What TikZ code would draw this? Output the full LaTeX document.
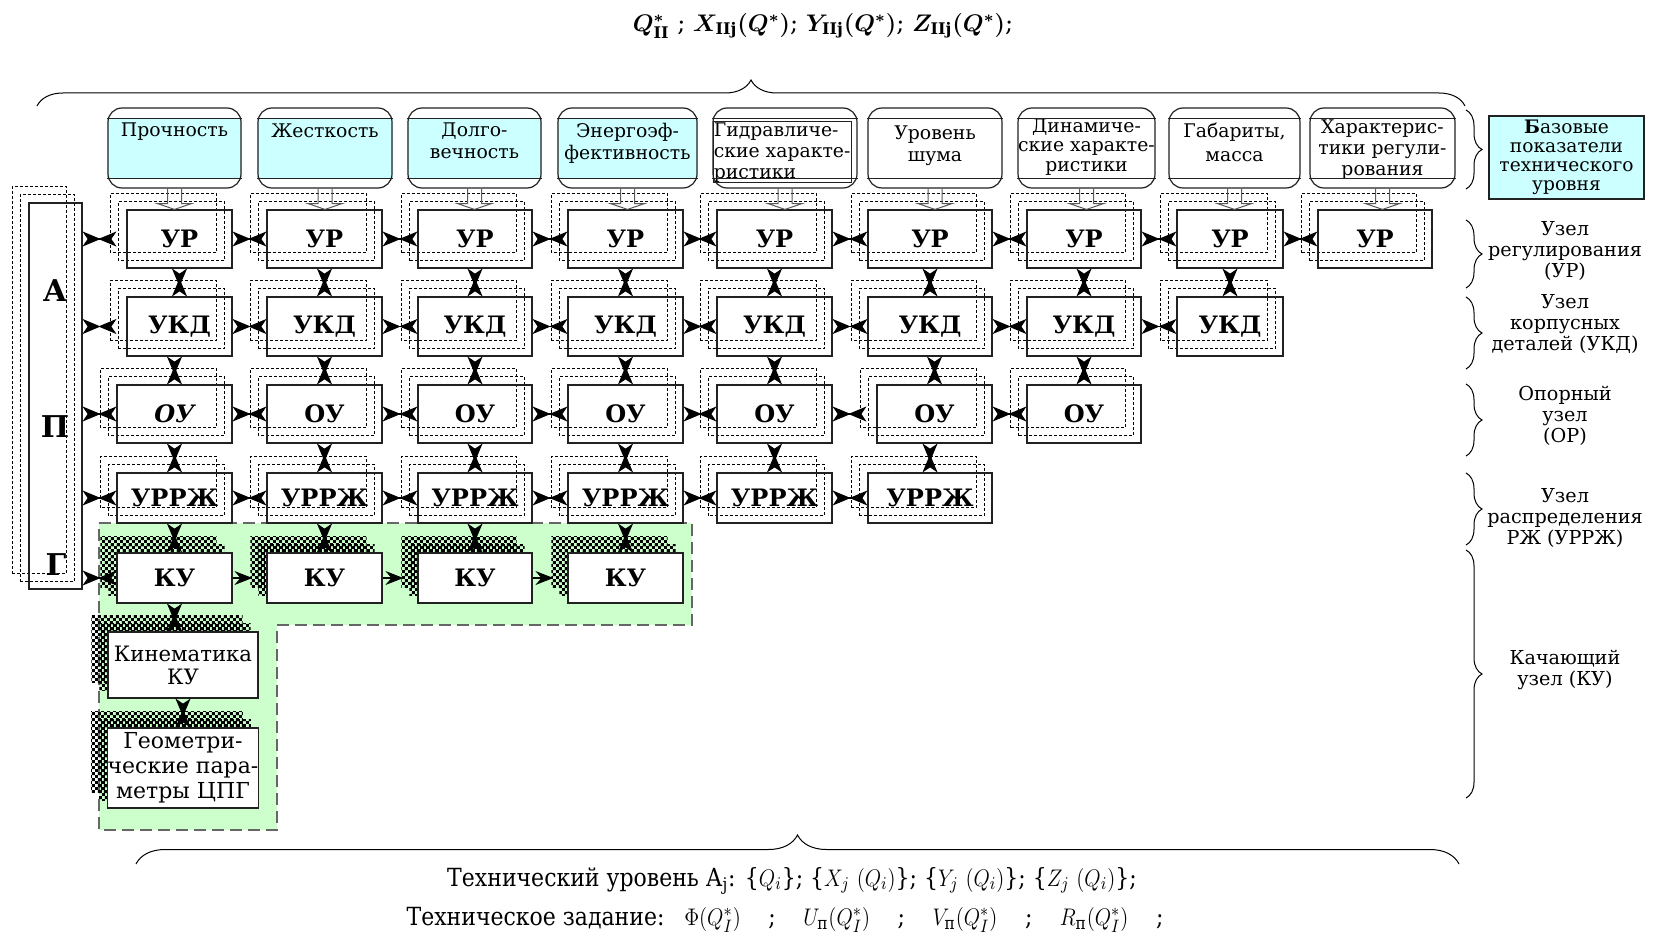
\documentclass[tikz,border=0pt]{standalone}
\usepackage{amsmath}
\usepackage{graphicx}
\usepackage{fontspec}
\setmainfont{DejaVu Serif}
\usetikzlibrary{arrows.meta,calc,patterns,decorations.pathreplacing}

\newlength{\du}
\setlength{\du}{0.5pt}

\definecolor{dialinecolor}{rgb}{0.13,0.13,0.13}
\definecolor{bandcyan}{rgb}{0.80,1.00,1.00}
\definecolor{zonegreen}{rgb}{0.80,1.00,0.80}

\pgfdeclarelayer{back}
\pgfdeclarelayer{frames}
\pgfsetlayers{back,frames,main}

% fine checkerboard for the swing unit shadows
\pgfdeclarepatternformonly{finechecks}{\pgfpointorigin}{\pgfqpoint{3.2pt}{3.2pt}}{\pgfqpoint{3.2pt}{3.2pt}}{%
  \pgfpathrectangle{\pgfpointorigin}{\pgfqpoint{1.6pt}{1.6pt}}%
  \pgfpathrectangle{\pgfqpoint{1.6pt}{1.6pt}}{\pgfqpoint{1.6pt}{1.6pt}}%
  \pgfusepath{fill}}

\tikzset{
  topbox/.style={draw=dialinecolor, line width=0.6pt, rounded corners=7pt, inner sep=0pt, minimum height=80\du},
  toptext/.style={inner sep=0pt, align=center, font=\fontsize{9.4}{11}\selectfont},
  unit/.style={draw=dialinecolor, line width=0.6pt, inner sep=0pt, font=\fontsize{12}{14}\selectfont\bfseries},
  swing/.style={unit, fill=white},
  partbox/.style={draw=dialinecolor, line width=0.6pt, fill=white, inner sep=0pt, minimum width=150\du, align=center},
  basebox/.style={draw=dialinecolor, line width=0.6pt, fill=bandcyan, inner sep=0pt, minimum width=155\du, minimum height=83\du, align=center, font=\fontsize{9.3}{9.5}\selectfont},
  letter/.style={inner sep=0pt, font=\fontsize{15}{15}\selectfont\bfseries},
  ghost/.style={draw=black, line width=0.4pt, dash pattern=on 1.5pt off 1pt},
  checks/.style={pattern=finechecks, pattern color=black},
  zone/.style={fill=zonegreen, draw=black!60, line width=0.6pt, dash pattern=on 6pt off 3pt},
  bistar/.style={line width=0.6pt, arrows={Stealth[reversed,length=9pt,width=7.5pt,inset=2.5pt]-Stealth[reversed,length=9pt,width=7.5pt,inset=2.5pt]}},
  onestar/.style={line width=0.6pt, arrows={-Stealth[length=9pt,width=7pt,inset=3pt]}},
  hollow/.style={draw=black!65, line width=0.5pt},
  sidebrace/.style={decorate, decoration={brace, amplitude=8pt}, line width=0.5pt},
  sidelabel/.style={inner sep=0pt, align=center, font=\fontsize{9.6}{10.5}\selectfont},
}

\begin{document}
\begin{tikzpicture}
\pgftransformxscale{1.000000}
\pgftransformyscale{-1.000000}
\useasboundingbox (0\du,0\du) rectangle (1663\du,936\du);

% goal line
\node[font=\fontsize{12}{14}\selectfont] (goal) at (823\du,26\du) {$\boldsymbol{Q^{*}_{\mathrm{II}}}$ ; $\boldsymbol{X_{\mathrm{IIj}}(Q^{*})}$; $\boldsymbol{Y_{\mathrm{IIj}}(Q^{*})}$; $\boldsymbol{Z_{\mathrm{IIj}}(Q^{*})}$;};

% basic indicators
\foreach \col/\x/\w in {1/174.5/133,2/325/134,3/474.5/133,4/627.5/139,5/785/144,6/935/134,7/1086.5/137,8/1234.5/131,9/1382.5/145}
  \node[topbox, minimum width=\w\du] (t\col) at (\x\du,148\du) {};
\node[toptext, anchor=north] (t1txt) at ($(t1.north)+(0\du,15\du)$) {Прочность};
\node[toptext, anchor=north] (t2txt) at ($(t2.north)+(0\du,16\du)$) {Жесткость};
\node[toptext, anchor=north] (t3txt) at ($(t3.north)+(0\du,15\du)$) {Долго-\\вечность};
\node[toptext, anchor=north] (t4txt) at ($(t4.north)+(0\du,15\du)$) {Энергоэф-\\фективность};
\node[toptext, anchor=north west, align=left, font=\fontsize{9.4}{10.5}\selectfont] (t5txt) at ($(t5.north west)+(1\du,15\du)$) {Гидравличе-\\ские характе-\\ристики};
\node[toptext, anchor=north] (t6txt) at ($(t6.north)+(0\du,18\du)$) {Уровень\\шума};
\node[toptext, anchor=north, font=\fontsize{9.4}{9.7}\selectfont] (t7txt) at ($(t7.north)+(0\du,11\du)$) {Динамиче-\\ские характе-\\ристики};
\node[toptext, anchor=north, font=\fontsize{9.4}{12}\selectfont] (t8txt) at ($(t8.north)+(0\du,15\du)$) {Габариты,\\масса};
\node[toptext, anchor=north, font=\fontsize{9.4}{10.5}\selectfont] (t9txt) at ($(t9.north)+(0\du,12\du)$) {Характерис-\\тики регули-\\рования};
\node[basebox] (base) at (1566.5\du,157.5\du) {\textbf{Б}азовые\\показатели\\технического\\уровня};

% unit grid
\foreach \col/\x/\w in {1/179.5/105,2/324.5/115,3/475/114,4/625.5/115,5/774.5/115,6/930/124,7/1084/114,8/1230/106,9/1375/114}
  \node[unit, minimum width=\w\du, minimum height=58\du] (r1c\col) at (\x\du,239\du) {УР};
\foreach \col/\x/\w in {1/179.5/105,2/324.5/115,3/475/114,4/625.5/115,5/774.5/115,6/930/124,7/1084/114,8/1230/106}
  \node[unit, minimum width=\w\du, minimum height=59\du] (r2c\col) at (\x\du,326.5\du) {УКД};
\node[unit, minimum width=115\du, minimum height=58\du] (r3c1) at (174.5\du,414\du) {\itshape ОУ};
\foreach \col/\x/\w in {2/324.5/115,3/475/114,4/625.5/115,5/774.5/115,6/934.5/115,7/1084/114}
  \node[unit, minimum width=\w\du, minimum height=58\du] (r3c\col) at (\x\du,414\du) {ОУ};
\foreach \col/\x/\w in {1/174.5/115,2/324.5/115,3/475/114,4/625.5/115,5/774.5/115,6/930/124}
  \node[unit, minimum width=\w\du, minimum height=50\du] (r4c\col) at (\x\du,498\du) {УРРЖ};
\foreach \col/\x/\w in {1/174.5/115,2/324.5/115,3/475/114,4/625.5/115}
  \node[swing, minimum width=\w\du, minimum height=50\du] (r5c\col) at (\x\du,578\du) {КУ};
\node[partbox, minimum height=66\du, font=\fontsize{10.6}{11.5}\selectfont] (kin) at (183\du,665\du) {Кинематика\\КУ};
\node[partbox, minimum height=80\du, font=\fontsize{11}{12.5}\selectfont] (geo) at (183\du,768\du) {Геометри-\\ческие пара-\\метры ЦПГ};

% APG column
\node[draw=dialinecolor, line width=0.6pt, minimum width=53\du, minimum height=386\du] (apg) at (55.5\du,396\du) {};
\node[letter] (letA) at (55\du,291\du) {А};
\node[letter] (letP) at (55\du,427\du) {П};
\node[letter] (letG) at (56\du,565\du) {Г};

% backgrounds, bands and shadows
\begin{pgfonlayer}{back}
\filldraw[zone] (99\du,523\du) -- (692\du,523\du) -- (692\du,625\du) -- (277\du,625\du) -- (277\du,830\du) -- (99\du,830\du) -- cycle;
\foreach \col in {1,2,3,4}
  \fill[bandcyan] ($(t\col.north west)+(0\du,11\du)$) rectangle ($(t\col.south east)+(0\du,-10\du)$);
\end{pgfonlayer}
\foreach \col in {1,...,9} {
  \draw[dialinecolor, line width=0.6pt] ($(t\col.north west)+(0\du,11\du)$) -- ($(t\col.north east)+(0\du,11\du)$);
  \draw[dialinecolor, line width=0.6pt] ($(t\col.south west)+(0\du,-10\du)$) -- ($(t\col.south east)+(0\du,-10\du)$);
}
\draw[dialinecolor, line width=0.6pt] ($(t5.north west)+(1\du,14\du)$) rectangle ($(t5.south east)+(-6\du,-6\du)$);
\begin{pgfonlayer}{frames}
\foreach \nd in {apg,r1c1,r1c2,r1c3,r1c4,r1c5,r1c6,r1c7,r1c8,r1c9,r2c1,r2c2,r2c3,r2c4,r2c5,r2c6,r2c7,r2c8,r3c1,r3c2,r3c3,r3c4,r3c5,r3c6,r3c7,r4c1,r4c2,r4c3,r4c4,r4c5,r4c6} {
  \draw[ghost] ($(\nd.south west)+(-16\du,-16\du)$) rectangle ($(\nd.north east)+(-16\du,-16\du)$);
  \draw[ghost] ($(\nd.south west)+(-8\du,-8\du)$) rectangle ($(\nd.north east)+(-8\du,-8\du)$);
}
\foreach \nd in {r5c1,r5c2,r5c3,r5c4,kin,geo} {
  \fill[checks] ($(\nd.south west)+(-16\du,-16\du)$) rectangle ($(\nd.north east)+(-16\du,-16\du)$);
  \fill[checks] ($(\nd.south west)+(-8\du,-8\du)$) rectangle ($(\nd.north east)+(-8\du,-8\du)$);
}
\end{pgfonlayer}

% hollow arrows from indicators
\foreach \col in {1,...,9}
  \draw[hollow] ($(t\col.south)+(-7\du,0\du)$) -- ++(0\du,15\du) -- ++(-10\du,0\du) -- (t\col.south |- r1c\col.north) -- ($(t\col.south)+(17\du,15\du)$) -- ++(-10\du,0\du) -- ++(0\du,-15\du);

% links
\draw[bistar, shorten >=5pt] (apg.east |- r1c1) -- (r1c1.west);
\draw[bistar, shorten >=5pt] (apg.east |- r2c1) -- (r2c1.west);
\draw[bistar] (apg.east |- r3c1) -- (r3c1.west);
\draw[bistar] (apg.east |- r4c1) -- (r4c1.west);
\draw[bistar] (apg.east |- r5c1) -- (r5c1.west);
\foreach \ca/\cb in {1/2,2/3,3/4,4/5,5/6,6/7,7/8,8/9}
  \draw[bistar] (r1c\ca.east) -- (r1c\cb.west);
\foreach \ca/\cb in {1/2,2/3,3/4,4/5,5/6,6/7,7/8}
  \draw[bistar] (r2c\ca.east) -- (r2c\cb.west);
\foreach \ca/\cb in {1/2,2/3,3/4,4/5,6/7}
  \draw[bistar] (r3c\ca.east) -- (r3c\cb.west);
\draw[bistar, shorten >=5pt] (r3c5.east) -- (r3c6.west);
\foreach \ca/\cb in {1/2,2/3,3/4,4/5,5/6}
  \draw[bistar] (r4c\ca.east) -- (r4c\cb.west);
\foreach \ca/\cb in {1/2,2/3,3/4}
  \draw[onestar, shorten >=7pt] (r5c\ca.east) -- (r5c\cb.west);
\foreach \col in {1,...,8}
  \draw[bistar] (r1c\col.south -| r2c\col.north) -- (r2c\col.north);
\foreach \col in {1,...,7}
  \draw[bistar] (r2c\col.south -| r3c\col.north) -- (r3c\col.north);
\foreach \col in {1,...,6}
  \draw[bistar] (r3c\col.south -| r4c\col.north) -- (r4c\col.north);
\foreach \col in {1,...,4}
  \draw[bistar] (r4c\col.south -| r5c\col.north) -- (r5c\col.north);
\draw[bistar] (r5c1.south) -- (r5c1.south |- kin.north);
\draw[bistar] (kin.south) -- (geo.north);

% braces
\draw[decorate, decoration={brace, amplitude=13pt}, line width=0.5pt] (37\du,106\du) -- (1465\du,106\du);
\draw[decorate, decoration={brace, amplitude=14.5pt}, line width=0.5pt] (136\du,864\du) -- (1459\du,864\du);
\draw[sidebrace] (1466\du,110\du) -- (1466\du,189\du);
\draw[sidebrace] (1466\du,220\du) -- (1466\du,288\du);
\draw[sidebrace] (1466\du,297\du) -- (1466\du,369\du);
\draw[sidebrace] (1466\du,384\du) -- (1466\du,456\du);
\draw[sidebrace] (1466\du,473\du) -- (1466\du,545\du);
\draw[sidebrace] (1466\du,550\du) -- (1466\du,798\du);

% side labels
\node[sidelabel] (lblUR) at (1565\du,251\du) {Узел\\регулирования\\(УР)};
\node[sidelabel] (lblUKD) at (1565\du,324\du) {Узел\\корпусных\\деталей (УКД)};
\node[sidelabel] (lblOR) at (1565\du,416\du) {Опорный\\узел\\(ОР)};
\node[sidelabel] (lblURRJ) at (1565\du,518\du) {Узел\\распределения\\РЖ (УРРЖ)};
\node[sidelabel] (lblKU) at (1565\du,670\du) {Качающий\\узел (КУ)};

% technical level and assignment
\node (level) at (792\du,881\du) {\scalebox{0.88}[1]{\fontsize{12.5}{14}\selectfont Технический уровень А$_{\mathrm{j}}$: \{$Q_i$\}; \{$X_j$ $(Q_i)$\}; \{$Y_j$ $(Q_i)$\}; \{$Z_j$ $(Q_i)$\};}};
\node (task) at (785\du,920\du) {\scalebox{0.88}[1]{\fontsize{12.5}{14}\selectfont Техническое задание:\hspace{0.9em}$\Phi(Q^{*}_{I})$\hspace{1.25em};\hspace{1.25em}$U_{\text{п}}(Q^{*}_{I})$\hspace{1.25em};\hspace{1.25em}$V_{\text{п}}(Q^{*}_{I})$\hspace{1.25em};\hspace{1.25em}$R_{\text{п}}(Q^{*}_{I})$\hspace{1.25em};}};
\end{tikzpicture}
\end{document}
